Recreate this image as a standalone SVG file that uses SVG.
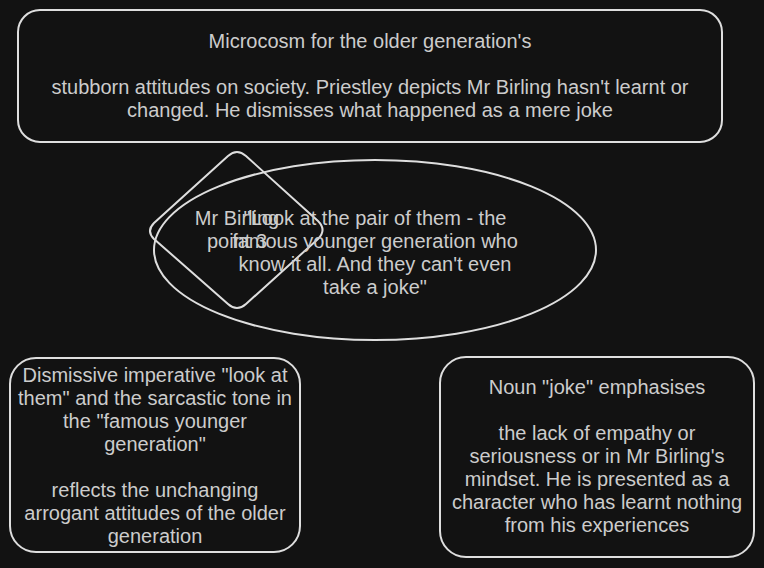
<svg xmlns="http://www.w3.org/2000/svg" width="764" height="568" viewBox="0 0 764 568">
<style>
.s{fill:#121212;stroke:#dedede;stroke-width:2}
.t{font-family:"Liberation Sans",Arial,sans-serif;font-size:20px;fill:#cccccc;text-anchor:middle}
</style>
<rect width="764" height="568" fill="#121212"/>
<g id="connectors"></g>
<g id="top">
<rect class="s" x="18" y="10" width="704" height="132" rx="22"/>
<text class="t" x="370" y="48">Microcosm for the older generation's</text>
<text class="t" x="370" y="94">stubborn attitudes on society. Priestley depicts Mr Birling hasn't learnt or</text>
<text class="t" x="370" y="117">changed. He dismisses what happened as a mere joke</text>
</g>
<g id="diamond">
<path class="s" style="fill:none" d="M228,156 Q237,148 246,156 L318,221 Q327,230 318,239 L246,304 Q237,312 228,304 L154,239 Q146,231 154,223 Z"/>
<text class="t" x="237" y="225">Mr Birling</text>
<text class="t" x="237" y="248">point 3</text>
</g>
<g id="quote">
<ellipse class="s" style="fill:none" cx="375" cy="250" rx="221" ry="90"/>
<text class="t" x="375" y="225">"Look at the pair of them - the</text>
<text class="t" x="375" y="248">famous younger generation who</text>
<text class="t" x="375" y="271">know it all. And they can't even</text>
<text class="t" x="375" y="294">take a joke"</text>
</g>
<g id="left">
<rect class="s" x="10" y="358" width="290" height="194" rx="26"/>
<text class="t" x="155" y="382">Dismissive imperative "look at</text>
<text class="t" x="155" y="405">them" and the sarcastic tone in</text>
<text class="t" x="155" y="428">the "famous younger</text>
<text class="t" x="155" y="451">generation"</text>
<text class="t" x="155" y="497">reflects the unchanging</text>
<text class="t" x="155" y="520">arrogant attitudes of the older</text>
<text class="t" x="155" y="543">generation</text>
</g>
<g id="right">
<rect class="s" x="440" y="357" width="314" height="200" rx="26"/>
<text class="t" x="597" y="394">Noun "joke" emphasises</text>
<text class="t" x="597" y="440">the lack of empathy or</text>
<text class="t" x="597" y="463">seriousness or in Mr Birling's</text>
<text class="t" x="597" y="486">mindset. He is presented as a</text>
<text class="t" x="597" y="509">character who has learnt nothing</text>
<text class="t" x="597" y="532">from his experiences</text>
</g>
</svg>
